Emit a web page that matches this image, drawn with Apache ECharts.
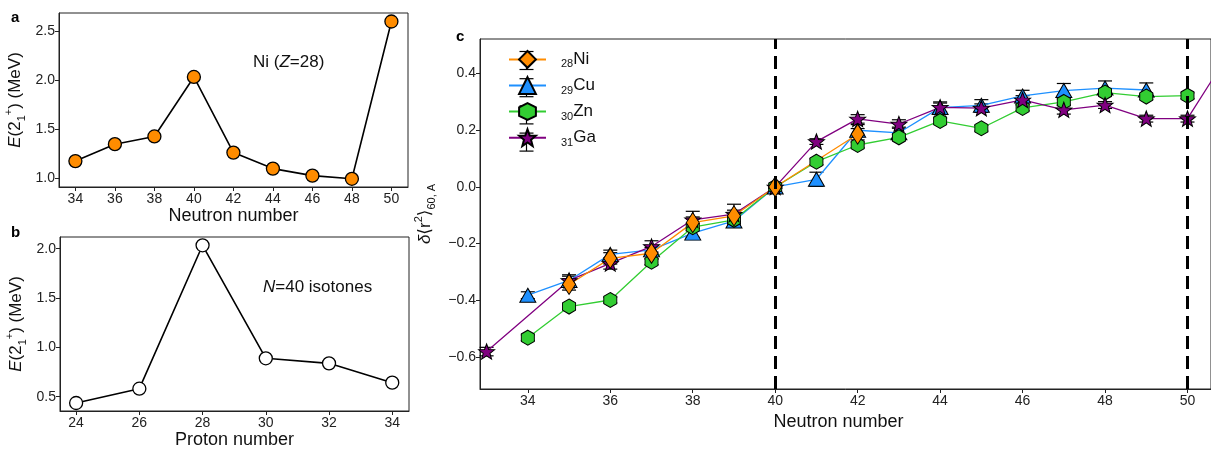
<!DOCTYPE html>
<html><head><meta charset="utf-8">
<script src="https://cdn.jsdelivr.net/npm/echarts@6/dist/echarts.min.js"></script>
<style>html,body{margin:0;padding:0;background:#fff}#c{width:1211px;height:450px}</style>
</head><body><div id="c"></div>
<script>
// ---- Panel a: Ni isotopes E(2+)
const niNeutron = [34, 36, 38, 40, 42, 44, 46, 48, 50];
const niE21 = [1.173, 1.346, 1.425, 2.033, 1.260, 1.096, 1.024, 0.992, 2.600];
const aXTicks = [34, 36, 38, 40, 42, 44, 46, 48, 50];
const aYTicks = [1.0, 1.5, 2.0, 2.5];
// ---- Panel b: N=40 isotones
const isoProton = [24, 26, 28, 30, 32, 34];
const isoE21 = [0.436, 0.581, 2.034, 0.889, 0.838, 0.642];
const bXTicks = [24, 26, 28, 30, 32, 34];
const bYTicks = [0.5, 1.0, 1.5, 2.0];
// ---- Panel c: charge radii differences
const cuN = [34, 35, 36, 37, 38, 39, 40, 41, 42, 43, 44, 45, 46, 47, 48, 49];
const cuR = [-0.382, -0.330, -0.238, -0.222, -0.163, -0.120, 0.000, 0.027, 0.200, 0.191, 0.280, 0.288, 0.321, 0.340, 0.349, 0.342];
const cuErr = [0.012, 0.015, 0.015, 0.015, 0.015, 0.015, 0.004, 0.025, 0.02, 0.02, 0.02, 0.02, 0.02, 0.025, 0.025, 0.025];
const znN = [34, 35, 36, 37, 38, 39, 40, 41, 42, 43, 44, 45, 46, 47, 48, 49, 50];
const znR = [-0.532, -0.422, -0.399, -0.264, -0.142, -0.116, 0.000, 0.089, 0.148, 0.175, 0.233, 0.207, 0.279, 0.300, 0.333, 0.319, 0.322];
const znErr = [0.01, 0.01, 0.01, 0.01, 0.012, 0.012, 0.004, 0.01, 0.01, 0.01, 0.01, 0.01, 0.01, 0.01, 0.01, 0.01, 0.01];
const gaN = [33, 35, 36, 37, 38, 39, 40, 41, 42, 43, 44, 45, 46, 47, 48, 49, 50, 51];
const gaR = [-0.581, -0.330, -0.270, -0.210, -0.116, -0.096, 0.000, 0.160, 0.240, 0.222, 0.281, 0.278, 0.307, 0.272, 0.289, 0.241, 0.241, 0.470];
const gaErr = [0.015, 0.02, 0.02, 0.02, 0.03, 0.035, 0.004, 0.01, 0.015, 0.015, 0.015, 0.015, 0.015, 0.015, 0.012, 0.012, 0.012, 0.015];
const niCN = [35, 36, 37, 38, 39, 40, 42];
const niCR = [-0.344, -0.252, -0.234, -0.126, -0.102, 0.000, 0.186];
const niCErr = [0.02, 0.02, 0.02, 0.02, 0.02, 0.004, 0.02];
const cXTicks = [34, 36, 38, 40, 42, 44, 46, 48, 50];
const cYTicks = [-0.6, -0.4, -0.2, 0.0, 0.2, 0.4];
const shellClosures = [40, 50];
const legendOrder = ['Ni', 'Cu', 'Zn', 'Ga'];
const protonZ = { Ni: '28', Cu: '29', Zn: '30', Ga: '31' };

const FONT = '"Liberation Sans", Arial, "DejaVu Sans", sans-serif';
const AX = '#222';

function pairs(xs, ys) { return xs.map((x, i) => [x, ys[i]]); }
function triples(xs, ys, es) { return xs.map((x, i) => [x, ys[i], es[i]]); }

function starPath() {
  let d = '';
  for (let k = 0; k < 10; k++) {
    const r = k % 2 === 0 ? 1 : 0.42;
    const a = (-90 + k * 36) * Math.PI / 180;
    d += (k === 0 ? 'M' : 'L') + (r * Math.cos(a)).toFixed(3) + ',' + (r * Math.sin(a)).toFixed(3) + ' ';
  }
  return 'path://' + d + 'Z';
}
const SYM = {
  Ni: { symbol: 'path://M0,-1 L0.62,0 L0,1 L-0.62,0 Z', size: [13, 20], color: '#ff8c00' },
  Cu: { symbol: 'path://M0,-1 L1,0.75 L-1,0.75 Z', size: [16, 14], color: '#1e90ff' },
  Zn: { symbol: 'path://M0,-1 L0.866,-0.5 L0.866,0.5 L0,1 L-0.866,0.5 L-0.866,-0.5 Z', size: [13, 15], color: '#32cd32' },
  Ga: { symbol: starPath(), size: [16, 15.2], color: '#800080' }
};

function xAxisBase(gi, min, max, ticks, name, gap, pad) {
  return {
    gridIndex: gi, type: 'value', min: min, max: max,
    name: name, nameLocation: 'middle', nameGap: gap,
    nameTextStyle: { fontFamily: FONT, fontSize: 18, color: '#111', padding: pad || 0 },
    axisLine: { show: true, onZero: false, lineStyle: { color: AX, width: 1 } },
    axisTick: { show: true, length: 4, customValues: ticks, lineStyle: { color: AX } },
    axisLabel: { customValues: ticks, fontFamily: FONT, fontSize: 14, color: '#222', margin: 5 },
    splitLine: { show: false }
  };
}
function yAxisBase(gi, min, max, ticks, name, gap, rich, fmt) {
  return {
    gridIndex: gi, type: 'value', min: min, max: max,
    name: name, nameLocation: 'middle', nameGap: gap, nameRotate: 90,
    nameTextStyle: { fontFamily: FONT, fontSize: 17, color: '#111', rich: rich },
    axisLine: { show: true, onZero: false, lineStyle: { color: AX, width: 1 } },
    axisTick: { show: true, length: 4, customValues: ticks, lineStyle: { color: AX } },
    axisLabel: { customValues: ticks, fontFamily: FONT, fontSize: 14, color: '#222', margin: 4, formatter: fmt },
    splitLine: { show: false }
  };
}
const nameRich = {
  i: { fontFamily: FONT, fontSize: 17, fontStyle: 'italic', lineHeight: 24, color: '#111' },
  n: { fontFamily: FONT, fontSize: 17, lineHeight: 24, color: '#111' },
  sub: { fontFamily: FONT, fontSize: 11, lineHeight: 10, verticalAlign: 'bottom', color: '#111' },
  sup: { fontFamily: FONT, fontSize: 11, lineHeight: 10, verticalAlign: 'top', color: '#111' }
};
const eName = '{i|E}{n|(2}{sub|1}{sup|+}{n|) (MeV)}';
const f1 = v => v.toFixed(1).replace('-', '\u2212');

function errSeries(name, xs, ys, es) {
  return {
    type: 'custom', name: name + 'err', xAxisIndex: 2, yAxisIndex: 2, z: 1, silent: true,
    data: triples(xs, ys, es),
    renderItem: function (params, api) {
      const x = api.value(0), y = api.value(1), e = api.value(2);
      const top = api.coord([x, y + e]), bot = api.coord([x, y - e]);
      const w = 7, st = { stroke: '#000', lineWidth: 1.2 };
      return { type: 'group', children: [
        { type: 'line', shape: { x1: top[0], y1: top[1], x2: bot[0], y2: bot[1] }, style: st },
        { type: 'line', shape: { x1: top[0] - w, y1: top[1], x2: top[0] + w, y2: top[1] }, style: st },
        { type: 'line', shape: { x1: bot[0] - w, y1: bot[1], x2: bot[0] + w, y2: bot[1] }, style: st }
      ] };
    }
  };
}
function lineSeries(name, xs, ys, extra) {
  const s = SYM[name];
  return Object.assign({
    type: 'line', name: name, xAxisIndex: 2, yAxisIndex: 2, z: 2,
    data: pairs(xs, ys), symbol: s.symbol, symbolSize: s.size, showSymbol: true,
    lineStyle: { color: s.color, width: 1.3 },
    itemStyle: { color: s.color, borderColor: '#000', borderWidth: 1 },
    clip: true, animation: false
  }, extra || {});
}

// legend layout constants
const LEG = { left: 508, top: 50, itemWidth: 37, itemHeight: 21, gap: 6.2 };
const legendBars = legendOrder.map((n, i) => {
  const cx = LEG.left + LEG.itemWidth / 2;
  const cy = LEG.top + i * (LEG.itemHeight + LEG.gap) + LEG.itemHeight / 2;
  const st = { stroke: '#000', lineWidth: 1.2 };
  return { type: 'group', silent: true, children: [
    { type: 'line', shape: { x1: cx, y1: cy - 9, x2: cx, y2: cy + 9 }, style: st },
    { type: 'line', shape: { x1: cx - 7, y1: cy - 9, x2: cx + 7, y2: cy - 9 }, style: st },
    { type: 'line', shape: { x1: cx - 7, y1: cy + 9, x2: cx + 7, y2: cy + 9 }, style: st }
  ] };
});

const chart = echarts.init(document.getElementById('c'), null, { renderer: 'canvas' });
chart.setOption({
  animation: false,
  backgroundColor: '#fff',
  grid: [
    { left: 59, top: 13, width: 349, height: 174, show: true, borderColor: AX, borderWidth: 1, backgroundColor: 'transparent' },
    { left: 60, top: 237, width: 349, height: 174, show: true, borderColor: AX, borderWidth: 1, backgroundColor: 'transparent' },
    { left: 480, top: 39, width: 733, height: 350, show: true, borderColor: AX, borderWidth: 1, backgroundColor: 'transparent' }
  ],
  xAxis: [
    xAxisBase(0, 33.17, 50.84, aXTicks, 'Neutron number', 20),
    xAxisBase(1, 23.49, 34.53, bXTicks, 'Proton number', 11),
    xAxisBase(2, 32.84, 50.57, cXTicks, 'Neutron number', 19, [0, 14, 0, 0])
  ],
  yAxis: [
    yAxisBase(0, 0.908, 2.687, aYTicks, eName, 32, nameRich, f1),
    yAxisBase(1, 0.355, 2.118, bYTicks, eName, 32, nameRich, f1),
    yAxisBase(2, -0.713, 0.522, cYTicks, '{i|\u03b4}{n|\u27e8r}{sup|2}{n|\u27e9}{sub|60, A}', 42, nameRich, f1)
  ],
  legend: {
    data: legendOrder, orient: 'vertical', left: LEG.left, top: LEG.top, padding: 0,
    itemWidth: LEG.itemWidth, itemHeight: LEG.itemHeight, itemGap: LEG.gap,
    selectedMode: false,
    formatter: n => '{sub|' + protonZ[n] + '}{el|' + n + '}',
    textStyle: {
      fontFamily: FONT, color: '#111', padding: [0, 0, 0, 10],
      rich: {
        sub: { fontFamily: FONT, fontSize: 11, lineHeight: 10, verticalAlign: 'bottom', color: '#111' },
        el: { fontFamily: FONT, fontSize: 17, lineHeight: 21, color: '#111' }
      }
    }
  },
  graphic: [
    { type: 'text', left: 11, top: 10, style: { text: 'a', font: 'bold 15px ' + FONT, fill: '#000' } },
    { type: 'text', left: 11, top: 225, style: { text: 'b', font: 'bold 15px ' + FONT, fill: '#000' } },
    { type: 'text', left: 456, top: 29, style: { text: 'c', font: 'bold 15px ' + FONT, fill: '#000' } },
    { type: 'text', left: 253, top: 54, style: {
      text: '{n|Ni (}{i|Z}{n|=28)}',
      rich: { n: { fontFamily: FONT, fontSize: 17, fill: '#111' }, i: { fontFamily: FONT, fontSize: 17, fontStyle: 'italic', fill: '#111' } } } },
    { type: 'text', left: 263, top: 279, style: {
      text: '{i|N}{n|=40 isotones}',
      rich: { n: { fontFamily: FONT, fontSize: 17, fill: '#111' }, i: { fontFamily: FONT, fontSize: 17, fontStyle: 'italic', fill: '#111' } } } }
  ].concat(legendBars),
  series: [
    { type: 'line', xAxisIndex: 0, yAxisIndex: 0, data: pairs(niNeutron, niE21),
      symbol: 'circle', symbolSize: 13, showSymbol: true,
      lineStyle: { color: '#000', width: 1.6 },
      itemStyle: { color: '#ff8c00', borderColor: '#000', borderWidth: 1.3 } },
    { type: 'line', xAxisIndex: 1, yAxisIndex: 1, data: pairs(isoProton, isoE21),
      symbol: 'circle', symbolSize: 13, showSymbol: true,
      lineStyle: { color: '#000', width: 1.6 },
      itemStyle: { color: '#fff', borderColor: '#000', borderWidth: 1.3 } },
    errSeries('Cu', cuN, cuR, cuErr),
    errSeries('Zn', znN, znR, znErr),
    errSeries('Ga', gaN, gaR, gaErr),
    errSeries('Ni', niCN, niCR, niCErr),
    lineSeries('Cu', cuN, cuR, {
      markLine: { silent: true, symbol: 'none', label: { show: false },
        lineStyle: { color: '#000', width: 3, type: [13, 7] },
        data: shellClosures.map(v => ({ xAxis: v })) }
    }),
    lineSeries('Zn', znN, znR),
    lineSeries('Ga', gaN, gaR),
    lineSeries('Ni', niCN, niCR)
  ]
});
</script>
</body></html>
